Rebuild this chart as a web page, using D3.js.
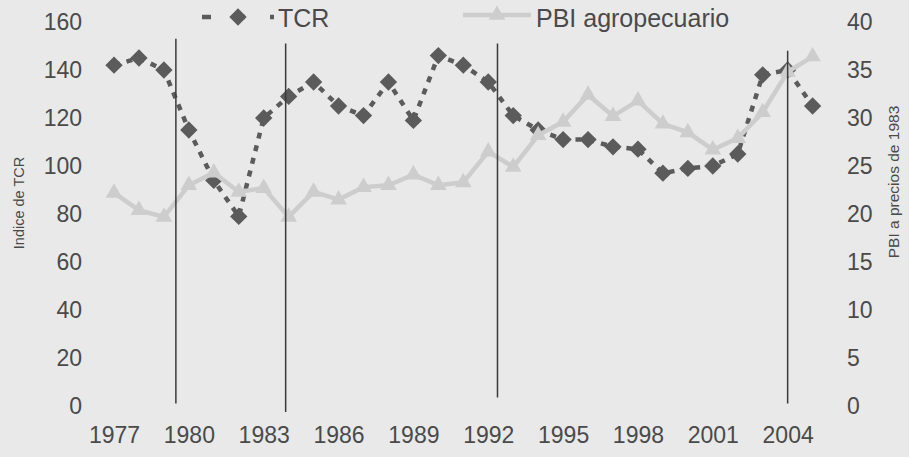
<!DOCTYPE html>
<html>
<head>
<meta charset="utf-8">
<script src="https://cdn.jsdelivr.net/npm/d3@7"></script>
<style>
  html, body { margin: 0; padding: 0; background: #e9e9e9; }
  svg { display: block; }
  text { font-family: "Liberation Sans", Arial, sans-serif; fill: #4a4a4a; }
</style>
</head>
<body>
<svg id="chart" width="909" height="457"></svg>
<script>
// ---- data ----
const years = d3.range(1977, 2006);
const tcr = [142, 145, 140, 115, 94, 79, 120, 129, 135, 125, 121, 135, 119, 146, 142, 135,
             121, 115, 111, 111, 108, 107, 97, 99, 100, 105, 138, 140, 125];
const pbi = [22.2, 20.4, 19.7, 23.0, 24.3, 22.3, 22.7, 19.7, 22.3, 21.5, 22.8, 23.0, 24.1, 23.0, 23.3, 26.5,
             24.9, 28.2, 29.6, 32.4, 30.2, 31.8, 29.4, 28.5, 26.7, 27.9, 30.6, 34.8, 36.4];
const xTickLabels = [1977, 1980, 1983, 1986, 1989, 1992, 1995, 1998, 2001, 2004];
const leftTicks = [0, 20, 40, 60, 80, 100, 120, 140, 160];
const rightTicks = [0, 5, 10, 15, 20, 25, 30, 35, 40];
// vertical marker lines: [year position, top (left-axis value), bottom (left-axis value)]
const markerYears = [1979.48, 1983.88, 1992.37, 2004.0];
const markerTops = [153, 151, 151, 148];
const markerBottoms = [1, -2.5, 3.5, 1];
const seriesNames = ["TCR", "PBI agropecuario"];

// ---- layout ----
const svg = d3.select("#chart");
svg.append("rect").attr("width", 909).attr("height", 457).attr("fill", "#e9e9e9");

const x = d3.scaleLinear().domain([1977, 2005]).range([114, 812.6]);
const yL = d3.scaleLinear().domain([0, 160]).range([406, 22]);
const yR = d3.scaleLinear().domain([0, 40]).range([406, 22]);

const tcrColor = "#5b5b5b";
const pbiColor = "#cdcdcd";
const labelColor = "#575757";

// axes (labels only)
const gx = svg.append("g").attr("transform", "translate(0,406)")
  .call(d3.axisBottom(x).tickValues(xTickLabels).tickFormat(d3.format("d")).tickSize(0).tickPadding(21));
const gl = svg.append("g").attr("transform", "translate(84,0)")
  .call(d3.axisLeft(yL).tickValues(leftTicks).tickSize(0).tickPadding(2));
const gr = svg.append("g").attr("transform", "translate(845,0)")
  .call(d3.axisRight(yR).tickValues(rightTicks).tickSize(0).tickPadding(2));
[gx, gl, gr].forEach(g => {
  g.select(".domain").remove();
  g.selectAll("text").attr("font-size", 23).attr("fill", labelColor)
    .attr("font-family", "'Liberation Sans', Arial, sans-serif");
});

// axis titles
svg.append("text").attr("transform", "translate(24,203) rotate(-90)")
  .attr("text-anchor", "middle").attr("font-size", 14.5).attr("fill", labelColor).text("Indice de TCR");
svg.append("text").attr("transform", "translate(899,182) rotate(-90)")
  .attr("text-anchor", "middle").attr("font-size", 15.5).attr("fill", labelColor).text("PBI a precios de 1983");

// TCR series
const lineL = d3.line().x((d, i) => x(years[i])).y(d => yL(d));
svg.append("path").datum(tcr).attr("d", lineL)
  .attr("fill", "none").attr("stroke", tcrColor).attr("stroke-width", 4.5)
  .attr("stroke-dasharray", "6,7");
const diamond = d3.symbol().type(d3.symbolSquare).size(150);
svg.append("g").selectAll("path").data(tcr).join("path")
  .attr("d", diamond)
  .attr("transform", (d, i) => `translate(${x(years[i])},${yL(d)}) rotate(45)`)
  .attr("fill", tcrColor);

// PBI series
const lineR = d3.line().x((d, i) => x(years[i])).y(d => yR(d));
svg.append("path").datum(pbi).attr("d", lineR)
  .attr("fill", "none").attr("stroke", pbiColor).attr("stroke-width", 4.5);
const tri = d3.symbol().type(d3.symbolTriangle).size(120);
svg.append("g").selectAll("path").data(pbi).join("path")
  .attr("d", tri)
  .attr("transform", (d, i) => `translate(${x(years[i])},${yR(d)})`)
  .attr("fill", pbiColor);

// vertical marker lines
svg.append("g").selectAll("line").data(markerYears).join("line")
  .attr("x1", d => x(d)).attr("x2", d => x(d))
  .attr("y1", (d, i) => yL(markerTops[i])).attr("y2", (d, i) => yL(markerBottoms[i]))
  .attr("stroke", "#3a3a3a").attr("stroke-width", 1.5);

// legend
const leg = svg.append("g");
leg.append("line").attr("x1", 202).attr("x2", 274).attr("y1", 17).attr("y2", 17)
  .attr("stroke", tcrColor).attr("stroke-width", 4.5).attr("stroke-dasharray", "9,25");
leg.append("path").attr("d", diamond).attr("transform", "translate(238,17) rotate(45)").attr("fill", tcrColor);
leg.append("text").attr("x", 278).attr("y", 27).attr("font-size", 25).attr("fill", "#3f3f3f").text(seriesNames[0]);
leg.append("line").attr("x1", 463).attr("x2", 531).attr("y1", 15).attr("y2", 15)
  .attr("stroke", pbiColor).attr("stroke-width", 4.5);
leg.append("path").attr("d", tri).attr("transform", "translate(497,15)").attr("fill", pbiColor);
leg.append("text").attr("x", 536).attr("y", 27).attr("font-size", 25).attr("fill", "#3f3f3f").text(seriesNames[1]);
</script>
</body>
</html>
